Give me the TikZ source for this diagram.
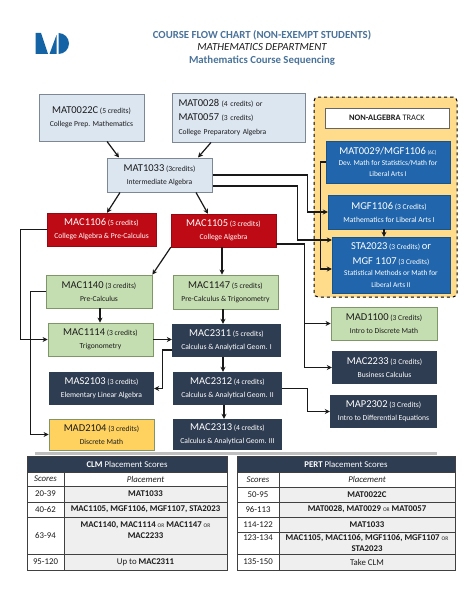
\documentclass[tikz,border=0pt]{standalone}
\usepackage{fontspec}
\setmainfont{Carlito}
\usetikzlibrary{arrows.meta,calc}
\definecolor{headblue}{HTML}{4A7399}
\definecolor{logoblue}{HTML}{1464A5}
\definecolor{paleblue}{HTML}{DCE6F1}
\definecolor{paleedge}{HTML}{7D8894}
\definecolor{brick}{HTML}{BE0A14}
\definecolor{leaf}{HTML}{C5DEB1}
\definecolor{leafedge}{HTML}{7F9668}
\definecolor{slate}{HTML}{2F3D52}
\definecolor{track}{HTML}{2166AC}
\definecolor{gold}{HTML}{FFD25F}
\definecolor{panel}{HTML}{FFDB8C}
\definecolor{rowgrey}{HTML}{EFEFEF}
\definecolor{ink}{HTML}{1C1C1C}
\newcommand{\code}[1]{{\fontsize{10.5}{13}\selectfont #1}}
\newcommand{\orword}{{\fontsize{5.5}{10}\selectfont OR}}
\tikzset{arr/.style={-{Stealth[length=5pt,width=5pt]},line width=1.2pt,draw=black!90},
  course/.style={align=center,inner sep=0pt,minimum width=105pt,minimum height=33pt,font=\fontsize{7.6}{13}\selectfont},
  prep/.style={course,draw=paleedge,fill=paleblue,line width=1pt,text=ink},
  intro/.style={course,draw=brick!80!black,fill=brick,text=white},
  green/.style={course,draw=leafedge,fill=leaf,line width=.8pt,text=ink},
  calc/.style={course,fill=slate,text=white},
  nonalg/.style={course,fill=track,draw=track!80!black,text=white},
  cell/.style={draw=black!75,line width=.8pt,fill=white,align=center,inner sep=0pt,text=ink,font=\fontsize{8.8}{10.5}\selectfont},
  rowcell/.style={cell,fill=rowgrey},
  headcell/.style={cell,fill=slate,text=white}}
\begin{document}
\begin{tikzpicture}[x=1pt,y=-1pt]
\useasboundingbox (0,0) rectangle (474,610);
% logo and heading
\fill[logoblue] (35.7,33) -- (41,33) -- (48,54) -- (35.7,54) -- cycle;
\fill[logoblue] (49.5,54) -- (56.5,35) -- (56.5,54) -- cycle;
\fill[logoblue] (58.5,33) arc (-90:90:10.5) -- cycle;
\node[font=\fontsize{10.8}{12}\selectfont\bfseries,text=headblue] (title) at (262,35) {COURSE FLOW CHART (NON-EXEMPT STUDENTS)};
\node[font=\fontsize{10.9}{12}\selectfont\itshape,text=ink] (dept) at (262,47.5) {MATHEMATICS DEPARTMENT};
\node[font=\fontsize{10.8}{12}\selectfont\bfseries,text=headblue] (subtitle) at (262,61) {Mathematics Course Sequencing};
% yellow panel
\node[draw=black,dashed,line width=1pt,rounded corners=4pt,fill=panel,minimum width=143pt,minimum height=200pt,inner sep=0pt] (panelbox) at (385.5,197) {};
\node[draw=black!60,fill=white,minimum width=124pt,minimum height=20pt,inner sep=0pt,text=ink,font=\fontsize{8.4}{9}\selectfont] (tracktitle) at (387,118) {\textbf{NON-ALGEBRA} TRACK};
% courses
\node[prep,minimum width=105pt,minimum height=47pt] (mat0022c) at (91.5,117.5) {\code{MAT0022C} (5 credits)\\College Prep. Mathematics};
\node[prep,align=left,text width=120pt,inner xsep=6.5pt,minimum height=49pt,font=\fontsize{7.6}{14}\selectfont] (mat0028) at (238.5,117.5) {\code{MAT0028} (4 credits) or\\\code{MAT0057} (3 credits)\\College Preparatory Algebra};
\node[prep,minimum height=34pt] (mat1033) at (159.5,175) {\code{MAT1033} (3credits)\\Intermediate Algebra};
\node[intro,minimum width=109pt] (mac1106) at (101.5,229.5) {\code{MAC1106} (5 credits)\\College Algebra \& Pre-Calculus};
\node[intro] (mac1105) at (223.5,230.5) {\code{MAC1105} (3 credits)\\College Algebra};
\node[nonalg,minimum width=124pt,minimum height=42pt,font=\fontsize{7.4}{11}\selectfont] (mat0029) at (388,162) {\code{MAT0029/MGF1106} {\fontsize{5.5}{11}\selectfont(6C)}\\Dev. Math for Statistics/Math for\\Liberal Arts I};
\node[nonalg,minimum width=122pt,minimum height=34pt] (mgf1106) at (389,212) {\code{MGF1106} (3 Credits)\\Mathematics for Liberal Arts I};
\node[nonalg,minimum width=118pt,minimum height=56pt,font=\fontsize{7.4}{11.5}\selectfont] (sta2023) at (391,265) {\code{STA2023} (3 Credits) \code{or}\\[3pt]\code{MGF 1107} (3 Credits)\\Statistical Methods or Math for\\Liberal Arts II};
\node[green,minimum width=106pt] (mac1140) at (99,291.5) {\code{MAC1140} (3 credits)\\Pre-Calculus};
\node[green,minimum height=34pt] (mac1147) at (225.5,292) {\code{MAC1147} (5 credits)\\Pre-Calculus \& Trigonometry};
\node[green] (mac1114) at (100.5,339.5) {\code{MAC1114} (3 credits)\\Trigonometry};
\node[calc,minimum width=109pt] (mac2311) at (226.5,340.5) {\code{MAC2311} (5 credits)\\Calculus \& Analytical Geom. I};
\node[calc] (mas2103) at (101.5,388.5) {\code{MAS2103} (3 credits)\\Elementary Linear Algebra};
\node[calc,minimum width=109pt] (mac2312) at (227.5,388.5) {\code{MAC2312} (4 credits)\\Calculus \& Analytical Geom. II};
\node[course,draw=leafedge,fill=gold,line width=.8pt,minimum height=31pt,text=ink] (mad2104) at (101.5,434.5) {\code{MAD2104} (3 credits)\\Discrete Math};
\node[calc,minimum width=109pt,minimum height=31pt] (mac2313) at (227.5,434.5) {\code{MAC2313} (4 credits)\\Calculus \& Analytical Geom. III};
\node[green,minimum width=106pt] (mad1100) at (384,323.5) {\code{MAD1100} (3 Credits)\\Intro to Discrete Math};
\node[calc] (mac2233) at (384.5,367.5) {\code{MAC2233} (3 Credits)\\Business Calculus};
\node[calc,minimum width=107pt] (map2302) at (383.5,411.5) {\code{MAP2302} (3 Credits)\\Intro to Differential Equations};
% connectors
\draw[arr] ([xshift=15.5pt]mat0022c.south) -- ([xshift=-40.5pt]mat1033.north);
\draw[arr] ([xshift=-27.5pt]mat0028.south) -- ([xshift=38.5pt]mat1033.north);
\draw[arr] ([xshift=-39.5pt]mat1033.south) -- ([xshift=5.5pt]mac1106.north);
\draw[arr] ([xshift=36.5pt]mat1033.south) -- ([xshift=-15.5pt]mac1105.north);
\draw[arr] (mat1033.east) -- ++(95,0) |- (mgf1106.west);
\draw[arr] ([yshift=-11pt]mat1033.east) -- ++(85,0) |- ([yshift=25pt]sta2023.west);
\draw[arr] ([yshift=-13.5pt]mac1105.east) -- ++(28,0) |- (mac2233.west);
\draw[arr] ([yshift=-13.5pt]mac1105.east) -- ++(28,0) |- (mad1100.west);
\draw[arr] (mat0029.west) -- ++(-5,0) |- ([yshift=-4pt]sta2023.west);
\draw[arr] ([xshift=-5pt]mgf1106.south) -- ([xshift=-7pt]sta2023.north);
\draw[arr] (mac1106.west) -- ++(-26,0) |- (mac1114.west);
\draw[arr] (mac1105.south west) -- (mac1140.north east);
\draw[arr] ([xshift=-1.5pt]mac1105.south) -- ([xshift=-3.5pt]mac1147.north);
\draw[arr] ([xshift=1pt]mac1140.south) -- ([xshift=-.5pt]mac1114.north);
\draw[arr] (mac1140.west) -- ++(-15,0) |- (mad2104.west);
\draw[arr] ([xshift=-2.5pt]mac1147.south) -- ([xshift=-3.5pt]mac2311.north);
\draw[arr] (mac1114.east) -- (mac1114.east -| mac2311.west);
\draw[arr] ([yshift=-9.5pt]mac2311.west) -- ++(-9,0) |- (mas2103.east);
\draw[arr] ([xshift=-3.5pt]mac2311.south) -- ([xshift=-4.5pt]mac2312.north);
\draw[arr] ([xshift=-3.5pt]mac2312.south) -- ([xshift=-3.5pt]mac2313.north);
\draw[arr] (mac2312.east) -- ++(25,0) |- (map2302.west);
% CLM table
\fill[black!25] (35,452) rectangle (437,454.5);
\node[headcell,minimum width=200pt,minimum height=16pt] (clmhead) at (127,464) {\textbf{CLM} Placement Scores};
\node[cell,minimum width=37pt,minimum height=14pt] (clmscores) at (45.5,479) {\textit{Scores}};
\node[cell,minimum width=163pt,minimum height=14pt] (clmplace) at (145.5,479) {\textit{Placement}};
\node[cell,minimum width=37pt,minimum height=16pt] (clma) at (45.5,494) {20-39};
\node[rowcell,minimum width=163pt,minimum height=16pt] (clmb) at (145.5,494) {\textbf{MAT1033}};
\node[cell,minimum width=37pt,minimum height=15pt] (clmc) at (45.5,509.5) {40-62};
\node[rowcell,minimum width=163pt,minimum height=15pt] (clmd) at (145.5,509.5) {\textbf{MAC1105, MGF1106, MGF1107, STA2023}};
\node[cell,minimum width=37pt,minimum height=37pt] (clme) at (45.5,535.5) {63-94};
\node[rowcell,minimum width=163pt,minimum height=37pt] (clmf) at (145.5,535.5) {\textbf{MAC1140, MAC1114} \orword{} \textbf{MAC1147} \orword\\\textbf{MAC2233}\\~};
\node[cell,minimum width=37pt,minimum height=16pt] (clmg) at (45.5,562) {95-120};
\node[rowcell,minimum width=163pt,minimum height=16pt] (clmh) at (145.5,562) {Up to \textbf{MAC2311}};
% PERT table
\node[headcell,minimum width=218pt,minimum height=16pt] (perthead) at (346,464) {\textbf{PERT} Placement Scores};
\node[cell,minimum width=42pt,minimum height=15pt] (pertscores) at (258,479.5) {\textit{Scores}};
\node[cell,minimum width=176pt,minimum height=15pt] (pertplace) at (367,479.5) {\textit{Placement}};
\node[cell,minimum width=42pt,minimum height=15pt] (perta) at (258,494.5) {50-95};
\node[rowcell,minimum width=176pt,minimum height=15pt] (pertb) at (367,494.5) {\textbf{MAT0022C}};
\node[cell,minimum width=42pt,minimum height=15pt] (pertc) at (258,509.5) {96-113};
\node[rowcell,minimum width=176pt,minimum height=15pt] (pertd) at (367,509.5) {\textbf{MAT0028, MAT0029} \orword{} \textbf{MAT0057}};
\node[cell,minimum width=42pt,minimum height=15pt] (perte) at (258,524.5) {114-122};
\node[rowcell,minimum width=176pt,minimum height=15pt] (pertf) at (367,524.5) {\textbf{MAT1033}};
\node[cell,minimum width=42pt,minimum height=22pt] (pertg) at (258,543) {123-134\\~};
\node[rowcell,minimum width=176pt,minimum height=22pt] (perth) at (367,543) {\textbf{MAC1105, MAC1106, MGF1106, MGF1107} \orword\\\textbf{STA2023}};
\node[cell,minimum width=42pt,minimum height=16pt] (perti) at (258,562) {135-150};
\node[rowcell,minimum width=176pt,minimum height=16pt] (pertj) at (367,562) {Take CLM};
\end{tikzpicture}
\end{document}
